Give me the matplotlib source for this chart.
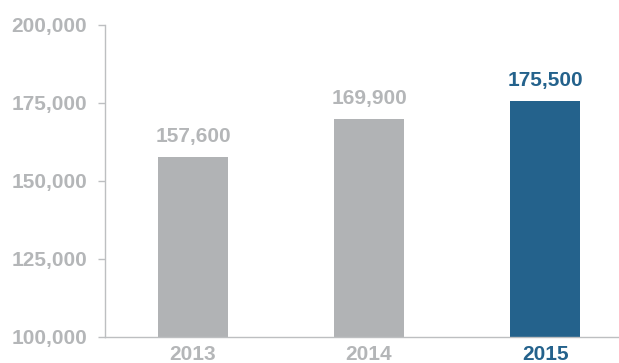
import matplotlib.pyplot as plt
from matplotlib.ticker import FuncFormatter

years = ['2013', '2014', '2015']
values = [157600, 169900, 175500]
yticks = [100000, 125000, 150000, 175000, 200000]

grey = '#b1b3b5'
blue = '#24628c'
label_grey = '#b4b6b8'
bar_colors = [grey, grey, blue]
text_colors = [label_grey, label_grey, blue]

plt.rcParams['font.family'] = ['Liberation Sans', 'DejaVu Sans']
plt.rcParams['font.weight'] = 'bold'

fig = plt.figure(figsize=(6.19, 3.63), dpi=100)
ax = fig.add_axes([105/619, 1 - 337/363, 1 - 105/619, (337 - 25)/363])

x = range(len(years))
ax.bar(x, values, width=0.4, color=bar_colors, bottom=0, zorder=2)

for i, v in enumerate(values):
    ax.annotate(f'{v:,}', (i, v), xytext=(0, 8), textcoords='offset points',
                ha='center', va='bottom', fontsize=15, fontweight='bold',
                color=text_colors[i])

ax.set_ylim(100000, 200000)
ax.set_xlim(-0.5, 2.42)
ax.set_yticks(yticks)
ax.yaxis.set_major_formatter(FuncFormatter(lambda v, p: f'{int(v):,}'))
ax.set_xticks(list(x))
ax.set_xticklabels(years)
for lbl, c in zip(ax.get_xticklabels(), text_colors):
    lbl.set_color(c)

for side in ['top', 'right']:
    ax.spines[side].set_visible(False)
for side in ['left', 'bottom']:
    ax.spines[side].set_color('#bdbfc1')
    ax.spines[side].set_linewidth(1)

ax.tick_params(axis='y', length=5, width=1, color='#bdbfc1', labelcolor=label_grey,
               labelsize=15, pad=8)
ax.tick_params(axis='x', length=0, labelsize=15, pad=6)

fig.savefig('out.png', dpi=100)
